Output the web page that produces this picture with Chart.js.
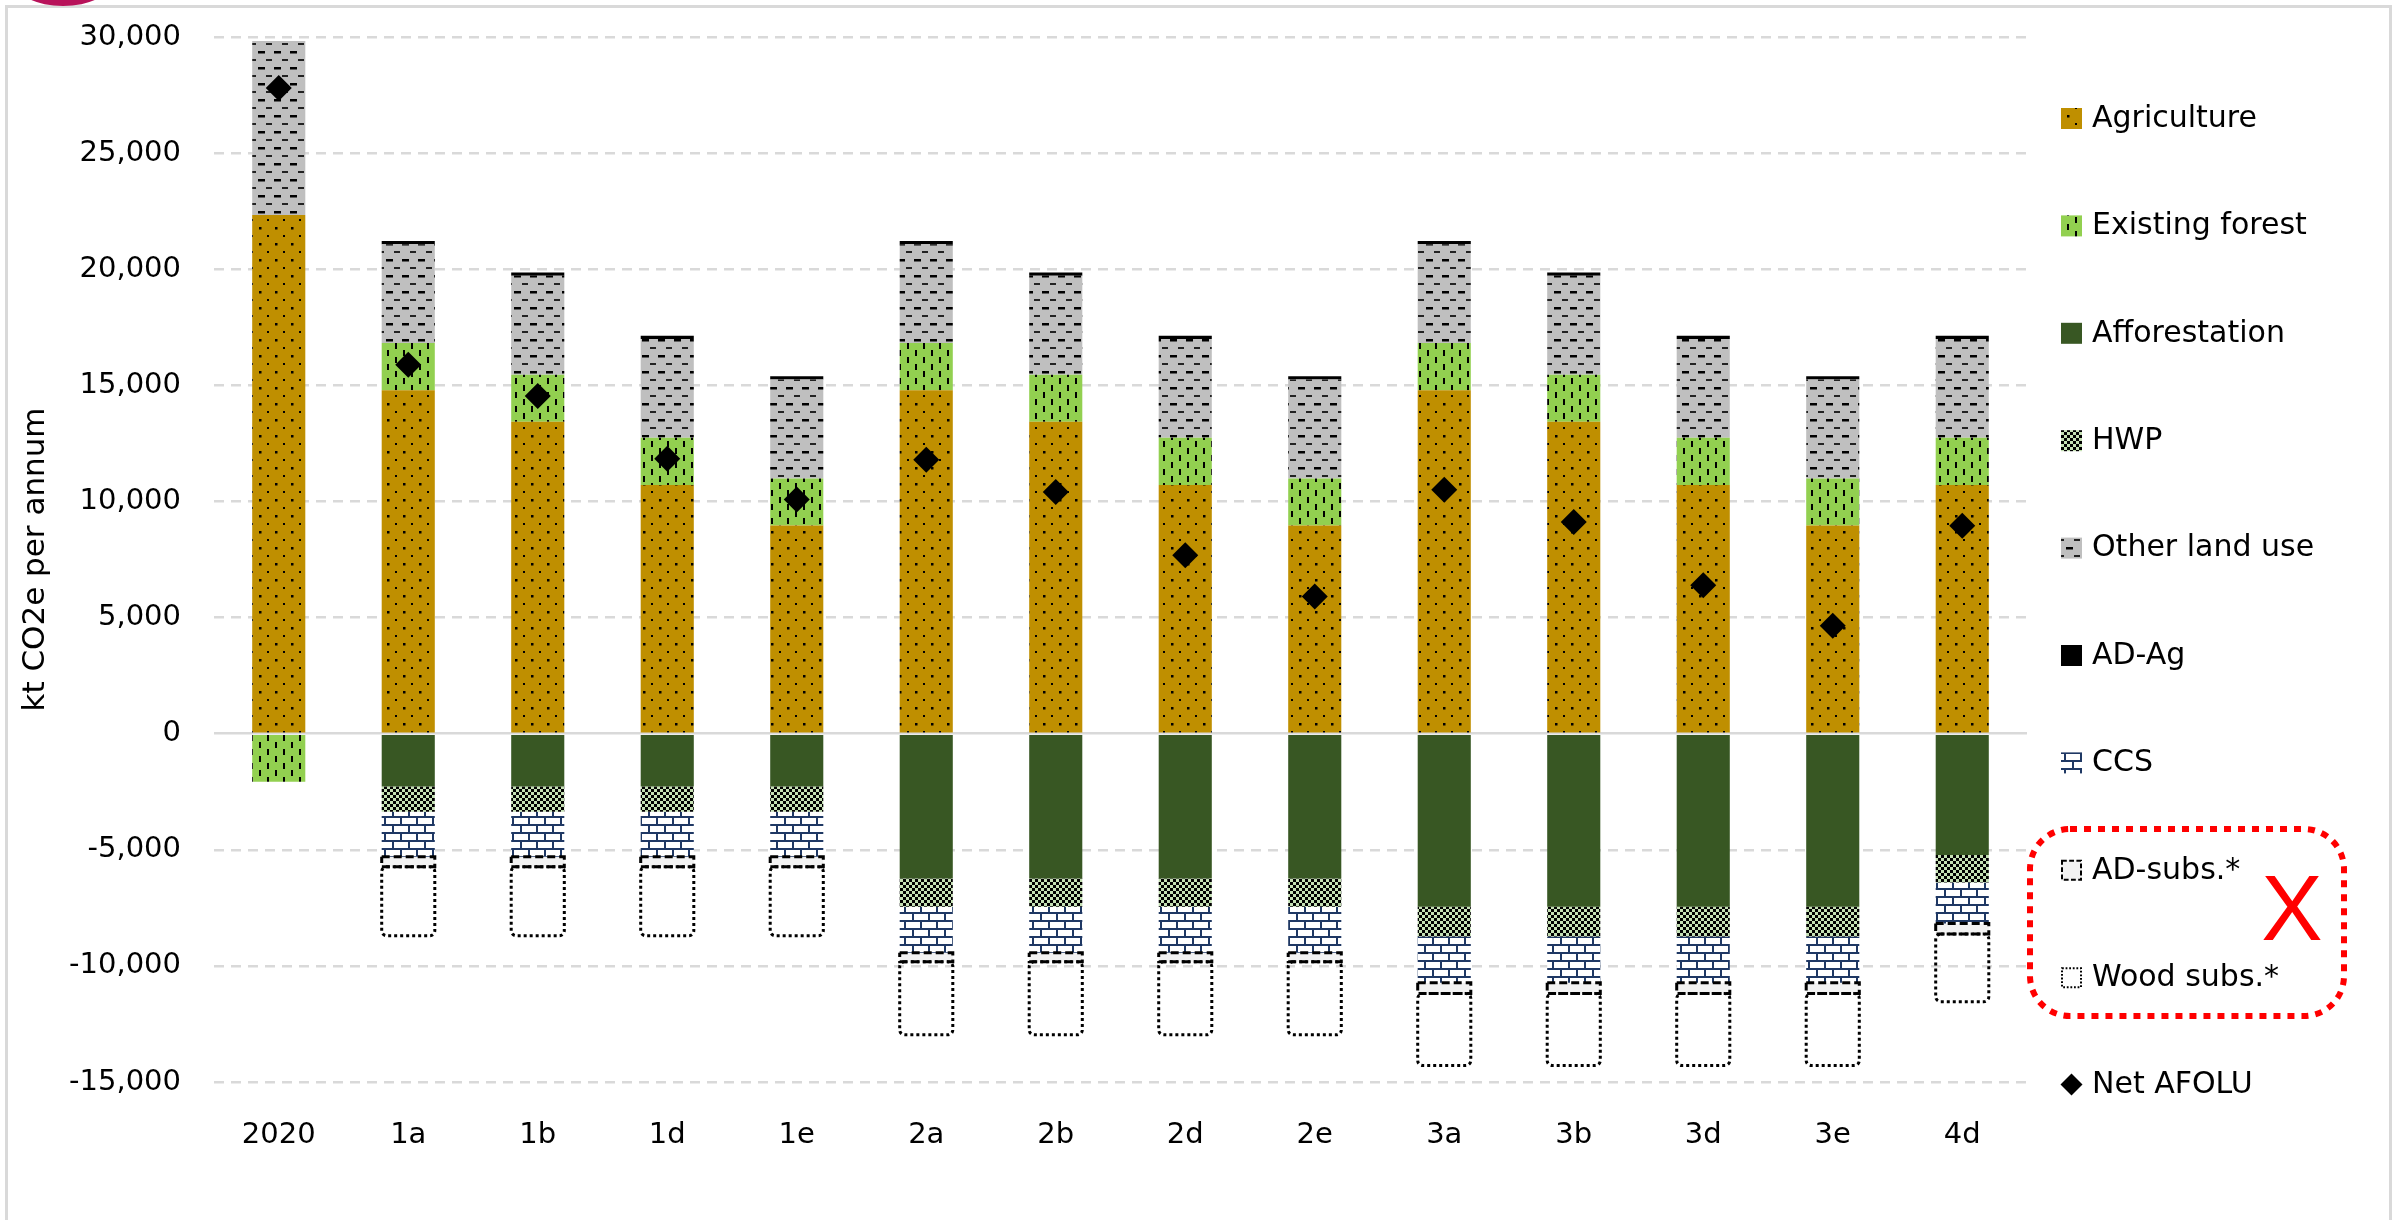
<!DOCTYPE html>
<html>
<head>
<meta charset="utf-8">
<script src="https://cdn.jsdelivr.net/npm/chart.js@4.4.0/dist/chart.umd.min.js"></script>
<style>
  html, body { margin: 0; padding: 0; background: #fff; }
</style>
</head>
<body>
<canvas id="afolu" width="2402" height="1220"></canvas>
<script>
// Scenarios on the x axis
const categories = ['2020', '1a', '1b', '1d', '1e', '2a', '2b', '2d', '2e', '3a', '3b', '3d', '3e', '4d'];

// Series values, kt CO2e per annum
const agriculture    = [22330, 14790, 13430, 10710, 8960, 14790, 13430, 10710, 8960, 14790, 13430, 10710, 8960, 10710];
const existingForest = [-2070, 2030, 2030, 2030, 2030, 2030, 2030, 2030, 2030, 2030, 2030, 2030, 2030, 2030];
const afforestation  = [null, -2270, -2270, -2270, -2270, -6240, -6240, -6240, -6240, -7450, -7450, -7450, -7450, -5220];
const hwp            = [null, -1090, -1090, -1090, -1090, -1210, -1210, -1210, -1210, -1280, -1280, -1280, -1280, -1190];
const otherLandUse   = [7500, 4260, 4260, 4260, 4260, 4260, 4260, 4260, 4260, 4260, 4260, 4260, 4260, 4260];
const adAg           = [null, 140, 140, 140, 140, 140, 140, 140, 140, 140, 140, 140, 140, 140];
const ccs            = [null, -1940, -1940, -1940, -1940, -1980, -1980, -1980, -1980, -2000, -2000, -2000, -2000, -1760];
const adSubs         = [null, -430, -430, -430, -430, -390, -390, -390, -390, -460, -460, -460, -460, -460];
const woodSubs       = [null, -2970, -2970, -2970, -2970, -3150, -3150, -3150, -3150, -3100, -3100, -3100, -3100, -2910];
const netAfolu       = [27800, 15890, 14545, 11837, 10088, 11794, 10404, 7681, 5904, 10504, 9114, 6391, 4643, 8955];

// Y axis range
const yMin = -15000;
const yMax = 30000;
const yStep = 5000;

const FONT = '"DejaVu Sans", "Liberation Sans", sans-serif';

let canvas = document.getElementById('afolu');
let ctx = canvas.getContext('2d');

/*
*   Builds a repeating fill pattern from a small tile
*/
function makePattern(w, h, draw) {
    let tile = document.createElement('canvas');
    tile.width = w;
    tile.height = h;
    draw(tile.getContext('2d'));
    return ctx.createPattern(tile, 'repeat');
}

// Agriculture: gold with scattered dots
let agriPattern = makePattern(16, 16, g => {
    g.fillStyle = '#BF8F00';
    g.fillRect(0, 0, 16, 16);
    g.fillStyle = '#000';
    g.fillRect(3, 3, 2.5, 2.5);
    g.fillRect(11, 11, 2, 2);
});

// Existing forest: light green with short vertical dashes
let forestPattern = makePattern(16, 14, g => {
    g.fillStyle = '#92D050';
    g.fillRect(0, 0, 16, 14);
    g.fillStyle = '#000';
    g.fillRect(3, 0, 2, 6);
    g.fillRect(11, 7, 2, 6);
});

// HWP: small checkerboard
let hwpPattern = makePattern(6, 6, g => {
    g.fillStyle = '#C5E0B4';
    g.fillRect(0, 0, 6, 6);
    g.fillStyle = '#000';
    g.fillRect(0, 0, 3, 3);
    g.fillRect(3, 3, 3, 3);
});

// Other land use: grey with horizontal dashes
let otherPattern = makePattern(16, 16, g => {
    g.fillStyle = '#BFBFBF';
    g.fillRect(0, 0, 16, 16);
    g.fillStyle = '#000';
    g.fillRect(2, 3, 7, 2.5);
    g.fillStyle = '#222';
    g.fillRect(10, 11, 7, 2);
});

// CCS: navy brick
let ccsPattern = makePattern(16, 16, g => {
    g.fillStyle = '#fff';
    g.fillRect(0, 0, 16, 16);
    g.fillStyle = '#1F3864';
    g.fillRect(0, 0, 16, 2);
    g.fillRect(0, 8, 16, 2);
    g.fillRect(0, 0, 2, 8);
    g.fillRect(8, 8, 2, 8);
});

/*
*   Dashed / dotted outlines for the substitution bars
*/
const subsOutline = {
    id: 'subsOutline',
    afterDatasetsDraw(chart) {
        let c = chart.ctx;
        chart.data.datasets.forEach((ds, i) => {
            if (!ds.outlineDash) return;
            let meta = chart.getDatasetMeta(i);
            meta.data.forEach((bar, j) => {
                if (ds.data[j] == null) return;
                let p = bar.getProps(['x', 'y', 'base', 'width'], true);
                let top = Math.min(p.y, p.base);
                let h = Math.abs(p.base - p.y);
                c.save();
                c.setLineDash(ds.outlineDash);
                c.lineWidth = 3;
                c.strokeStyle = '#000';
                c.beginPath();
                c.roundRect(p.x - p.width / 2, top, p.width, h, ds.outlineRadius || 0);
                c.stroke();
                c.restore();
            });
        });
    }
};

/*
*   Legend on the right, frame and the red annotation
*/
const legendX = 2061;
const legendTop = 118;
const legendStep = 107.4;

const sideLegend = {
    id: 'sideLegend',
    beforeDraw(chart) {
        let c = chart.ctx;
        c.save();
        c.fillStyle = '#fff';
        c.fillRect(0, 0, chart.width, chart.height);
        // outer frame
        c.strokeStyle = '#D9D9D9';
        c.lineWidth = 3;
        c.strokeRect(6.5, 6.5, 2384, 1300);
        // cut off badge in the corner
        c.fillStyle = '#B8125A';
        c.beginPath();
        c.ellipse(63, -18, 48, 24, 0, 0, Math.PI * 2);
        c.fill();
        c.restore();
    },
    afterDraw(chart) {
        let c = chart.ctx;
        c.save();
        c.font = '30px ' + FONT;
        c.textBaseline = 'middle';
        c.textAlign = 'left';
        chart.data.datasets.forEach((ds, i) => {
            let y = legendTop + i * legendStep;
            if (ds.type === 'line') {
                c.fillStyle = '#000';
                c.beginPath();
                c.moveTo(legendX + 10.5, y - 11);
                c.lineTo(legendX + 21.5, y);
                c.lineTo(legendX + 10.5, y + 11);
                c.lineTo(legendX - 0.5, y);
                c.closePath();
                c.fill();
            } else {
                c.fillStyle = ds.backgroundColor;
                c.fillRect(legendX, y - 10, 21, 21);
                if (ds.outlineDash) {
                    c.save();
                    c.setLineDash(ds.outlineDash.map(v => v * 0.6));
                    c.lineWidth = 2;
                    c.strokeStyle = '#000';
                    c.strokeRect(legendX + 1, y - 9, 19, 19);
                    c.restore();
                }
            }
            c.fillStyle = '#000';
            c.fillText(ds.label, legendX + 31, y + 1);
        });

        // red dotted box round the substitution items
        c.strokeStyle = '#FF0000';
        c.lineWidth = 6;
        c.setLineDash([7, 7]);
        c.beginPath();
        c.roundRect(2030, 829, 314, 187, 40);
        c.stroke();
        c.setLineDash([]);
        c.fillStyle = '#FF0000';
        c.font = '92px "Liberation Sans", sans-serif';
        c.textAlign = 'center';
        c.fillText('X', 2292, 915);
        c.restore();
    }
};

let chart = new Chart(ctx, {
    type: 'bar',
    data: {
        labels: categories,
        datasets: [
            { label: 'Agriculture', data: agriculture, backgroundColor: agriPattern },
            { label: 'Existing forest', data: existingForest, backgroundColor: forestPattern },
            { label: 'Afforestation', data: afforestation, backgroundColor: '#385723' },
            { label: 'HWP', data: hwp, backgroundColor: hwpPattern },
            { label: 'Other land use', data: otherLandUse, backgroundColor: otherPattern },
            { label: 'AD-Ag', data: adAg, backgroundColor: '#000' },
            { label: 'CCS', data: ccs, backgroundColor: ccsPattern },
            { label: 'AD-subs.*', data: adSubs, backgroundColor: '#F2F2F2', outlineDash: [8, 4] },
            { label: 'Wood subs.*', data: woodSubs, backgroundColor: 'rgba(255,255,255,0)', outlineDash: [3, 3], outlineRadius: 5 },
            {
                type: 'line',
                label: 'Net AFOLU',
                data: netAfolu,
                stack: 'net',
                order: -1,
                showLine: false,
                pointStyle: 'rectRot',
                pointRadius: 13,
                pointHoverRadius: 13,
                backgroundColor: '#000',
                borderColor: '#000',
                borderWidth: 0
            }
        ]
    },
    options: {
        responsive: false,
        animation: false,
        devicePixelRatio: 1,
        barPercentage: 0.41,
        categoryPercentage: 1,
        layout: { padding: { left: 14, top: 37, right: 375, bottom: 0 } },
        plugins: {
            legend: { display: false },
            tooltip: { enabled: false }
        },
        scales: {
            x: {
                stacked: true,
                grid: { display: false },
                border: { display: false },
                ticks: { color: '#000', padding: 28, font: { family: FONT, size: 29 } },
                afterFit(scale) { scale.height = 138; }
            },
            y: {
                stacked: true,
                min: yMin,
                max: yMax,
                ticks: {
                    stepSize: yStep,
                    color: '#000',
                    padding: 0,
                    font: { family: FONT, size: 29 },
                    callback: v => v.toLocaleString('en-US')
                },
                grid: {
                    color: '#D9D9D9',
                    lineWidth: 2.5,
                    drawTicks: true,
                    tickLength: 33,
                    tickColor: 'rgba(0,0,0,0)'
                },
                border: {
                    display: false,
                    dash: c => (c.tick && c.tick.value === 0) ? [] : [10, 7]
                },
                title: {
                    display: true,
                    text: 'kt CO2e per annum',
                    color: '#000',
                    font: { family: FONT, size: 31 },
                    padding: { top: 3, bottom: 0 }
                },
                afterFit(scale) { scale.width = 200; }
            }
        }
    },
    plugins: [subsOutline, sideLegend]
});
</script>
</body>
</html>
